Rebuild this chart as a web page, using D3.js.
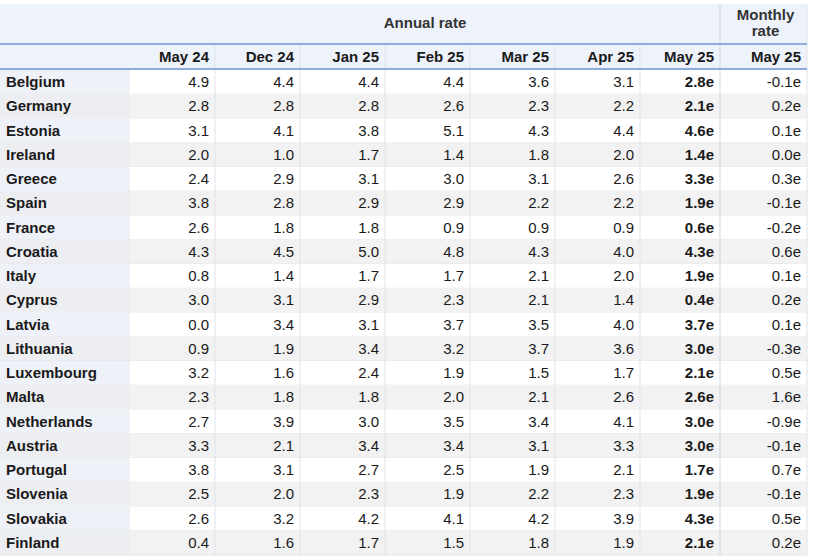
<!DOCTYPE html>
<html><head><meta charset="utf-8">
<script src="https://cdn.jsdelivr.net/npm/d3@7"></script>
<style>body{margin:0;background:#fff;font-family:"Liberation Sans",Arial,sans-serif;}</style>
</head><body><div id="chart"></div>
<script>
// DATA ----------------------------------------------------
var countries = ["Belgium","Germany","Estonia","Ireland","Greece","Spain","France","Croatia","Italy","Cyprus","Latvia","Lithuania","Luxembourg","Malta","Netherlands","Austria","Portugal","Slovenia","Slovakia","Finland"];
var periods = ["May 24","Dec 24","Jan 25","Feb 25","Mar 25","Apr 25","May 25"];
var annual = [
["4.9","4.4","4.4","4.4","3.6","3.1","2.8e"],
["2.8","2.8","2.8","2.6","2.3","2.2","2.1e"],
["3.1","4.1","3.8","5.1","4.3","4.4","4.6e"],
["2.0","1.0","1.7","1.4","1.8","2.0","1.4e"],
["2.4","2.9","3.1","3.0","3.1","2.6","3.3e"],
["3.8","2.8","2.9","2.9","2.2","2.2","1.9e"],
["2.6","1.8","1.8","0.9","0.9","0.9","0.6e"],
["4.3","4.5","5.0","4.8","4.3","4.0","4.3e"],
["0.8","1.4","1.7","1.7","2.1","2.0","1.9e"],
["3.0","3.1","2.9","2.3","2.1","1.4","0.4e"],
["0.0","3.4","3.1","3.7","3.5","4.0","3.7e"],
["0.9","1.9","3.4","3.2","3.7","3.6","3.0e"],
["3.2","1.6","2.4","1.9","1.5","1.7","2.1e"],
["2.3","1.8","1.8","2.0","2.1","2.6","2.6e"],
["2.7","3.9","3.0","3.5","3.4","4.1","3.0e"],
["3.3","2.1","3.4","3.4","3.1","3.3","3.0e"],
["3.8","3.1","2.7","2.5","1.9","2.1","1.7e"],
["2.5","2.0","2.3","1.9","2.2","2.3","1.9e"],
["2.6","3.2","4.2","4.1","4.2","3.9","4.3e"],
["0.4","1.6","1.7","1.5","1.8","1.9","2.1e"]];
var monthly = ["-0.1e","0.2e","0.1e","0.0e","0.3e","-0.1e","-0.2e","0.6e","0.1e","0.2e","0.1e","-0.3e","0.5e","1.6e","-0.9e","-0.1e","0.7e","-0.1e","0.5e","0.2e"];

// LAYOUT --------------------------------------------------
var W = 820, H = 560;
var colEdges = [0,130,215,300,385,470,555,640,720,807];
var headTop = 4, headMid = 44, headBot = 69, tableBot = 555;
var fs = "15px";
var c_head = "#eef2fb", c_line = "#8eaadf", c_alt = "#f2f2f2", c_name = "#eef1f7", c_grid = "#dfe3ea", c_text = "#1a1a1a";

var svg = d3.select("#chart").append("svg").attr("width", W).attr("height", H);
var y = d3.scaleBand().domain(countries).range([headBot + 1, tableBot]);

// header backgrounds
svg.append("rect").attr("x", 0).attr("y", headTop).attr("width", colEdges[9]).attr("height", headBot - headTop).style("fill", c_head);

// rows
var rows = svg.selectAll("g.row").data(countries).enter().append("g")
  .attr("transform", function(d){ return "translate(0," + y(d) + ")"; });
rows.append("rect").attr("width", colEdges[9]).attr("height", y.bandwidth())
  .style("fill", function(d,i){ return i % 2 ? c_alt : "#fff"; });
rows.append("rect").attr("width", colEdges[1]).attr("height", y.bandwidth())
  .style("fill", function(d,i){ return i % 2 ? "#eceef2" : c_name; });
rows.append("line").attr("x1", 0).attr("x2", colEdges[9]).attr("y1", y.bandwidth()).attr("y2", y.bandwidth())
  .style("stroke", "#e4e6ea");
rows.append("text").attr("x", 6).attr("y", y.bandwidth()/2 + 5)
  .style("font-weight", "bold").style("font-size", fs).style("fill", c_text).text(function(d){ return d; });
rows.each(function(d, i){
  var g = d3.select(this);
  annual[i].forEach(function(v, j){
    g.append("text").attr("x", colEdges[j+2] - 6).attr("y", y.bandwidth()/2 + 5)
      .attr("text-anchor", "end").style("font-size", fs).style("fill", c_text)
      .style("font-weight", j == 6 ? "bold" : "normal").text(v);
  });
  g.append("text").attr("x", colEdges[9] - 6).attr("y", y.bandwidth()/2 + 5)
    .attr("text-anchor", "end").style("font-size", fs).style("fill", c_text).text(monthly[i]);
});

// vertical grid
for (var k = 2; k < 9; k++) {
  svg.append("line").attr("x1", colEdges[k]).attr("x2", colEdges[k])
    .attr("y1", k == 8 ? headTop : headMid).attr("y2", tableBot)
    .style("stroke", k == 8 ? "#cfd5df" : c_grid);
}
svg.append("line").attr("x1", colEdges[9]).attr("x2", colEdges[9]).attr("y1", headTop).attr("y2", tableBot).style("stroke", c_grid);

// header lines
svg.append("line").attr("x1", 0).attr("x2", colEdges[9]).attr("y1", headMid).attr("y2", headMid).style("stroke", c_line).style("stroke-width", 2);
svg.append("line").attr("x1", 0).attr("x2", colEdges[9]).attr("y1", headBot).attr("y2", headBot).style("stroke", c_line).style("stroke-width", 2);

// header text
svg.append("text").attr("x", 425).attr("y", 28).attr("text-anchor", "middle")
  .style("font-weight", "bold").style("font-size", fs).style("fill", "#333").text("Annual rate");
svg.append("text").attr("x", (colEdges[8] + colEdges[9]) / 2 + 2).attr("y", 20).attr("text-anchor", "middle")
  .style("font-weight", "bold").style("font-size", fs).style("fill", "#333").text("Monthly");
svg.append("text").attr("x", (colEdges[8] + colEdges[9]) / 2 + 2).attr("y", 36).attr("text-anchor", "middle")
  .style("font-weight", "bold").style("font-size", fs).style("fill", "#333").text("rate");
periods.concat(["May 25"]).forEach(function(p, j){
  svg.append("text").attr("x", colEdges[j+2] - 6).attr("y", 62).attr("text-anchor", "end")
    .style("font-weight", "bold").style("font-size", fs).style("fill", c_text).text(p);
});
</script></body></html>
